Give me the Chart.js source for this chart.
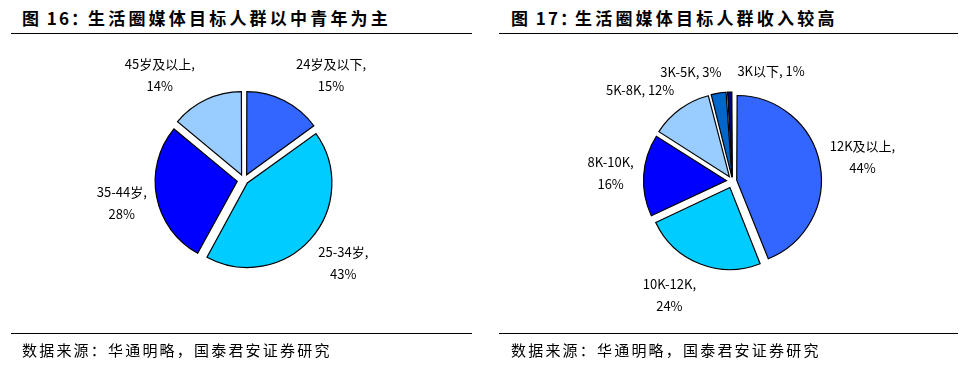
<!DOCTYPE html>
<html>
<head>
<meta charset="utf-8">
<script src="https://cdn.jsdelivr.net/npm/chart.js@4/dist/chart.umd.min.js"></script>
<style>
  body { margin: 0; background: #fff; width: 970px; height: 369px; position: relative; overflow: hidden;
         font-family: "Noto Sans CJK SC", sans-serif; color: #000; }
  .title { position: absolute; top: 8px; font-size: 17px; line-height: 20px; font-weight: bold; white-space: nowrap; }
  .rule { position: absolute; height: 1px; background: #000; }
  .src { position: absolute; top: 340px; font-size: 15px; line-height: 20px; letter-spacing: 2.2px; white-space: nowrap; }
  canvas { position: absolute; top: 0; }
</style>
</head>
<body>
<div class="title" style="left:22px;letter-spacing:2px">图 16：</div>
<div class="title" style="left:88px;letter-spacing:3.2px">生活圈媒体目标人群以中青年为主</div>
<div class="rule" style="left:11px;width:461px;top:33px"></div>
<canvas id="ageChart" width="485" height="369" style="left:0"></canvas>
<div class="rule" style="left:11px;width:461px;top:333px"></div>
<div class="src" style="left:22px">数据来源：华通明略，国泰君安证券研究</div>

<div class="title" style="left:511px;letter-spacing:2px">图 17：</div>
<div class="title" style="left:575px;letter-spacing:3.2px">生活圈媒体目标人群收入较高</div>
<div class="rule" style="left:499px;width:459px;top:33px"></div>
<canvas id="incomeChart" width="485" height="369" style="left:485px"></canvas>
<div class="rule" style="left:499px;width:459px;top:333px"></div>
<div class="src" style="left:511px">数据来源：华通明略，国泰君安证券研究</div>

<script>
// data
const ageLabels = ["24岁及以下", "25-34岁", "35-44岁", "45岁及以上"];
const ageValues = [15, 43, 28, 14];
const incomeLabels = ["12K及以上", "10K-12K", "8K-10K", "5K-8K", "3K-5K", "3K以下"];
const incomeValues = [44, 24, 16, 12, 3, 1];

// styles
const ageColors = ["#3366FF", "#00CCFF", "#0000FF", "#99CCFF"];
const incomeColors = ["#3366FF", "#00CCFF", "#0000FF", "#99CCFF", "#0066CC", "#000080"];
const ageOneLine = [false, false, false, false];
const incomeOneLine = [false, false, false, true, true, true];

const EXPLODE = 7;     // px each slice is pulled out
const RADIUS = 82;
const LINE_H = 22;

const clamp1 = v => Math.max(-1, Math.min(1, v));

// chart.js moves an arc by offset/4 * (2 - sin(angle)), so scale it to give the same pull for all slices
function explodeOffset(c) {
  if (c.dataIndex === undefined) return 0;
  const vals = c.chart.data.datasets[0].data;
  const total = vals.reduce((a, b) => a + b, 0);
  const angle = vals[c.dataIndex] / total * 2 * Math.PI;
  const fix = 1 - Math.sin(Math.min(Math.PI, angle));
  return 4 * EXPLODE / (1 + fix);
}

const pieLabels = {
  id: "pieLabels",
  afterDatasetsDraw(chart, args, opts) {
    const ctx = chart.ctx;
    const meta = chart.getDatasetMeta(0);
    const data = chart.data.datasets[0].data;
    ctx.save();
    ctx.font = "13px 'Noto Sans CJK SC', sans-serif";
    ctx.fillStyle = "#000";
    ctx.textAlign = "center";
    ctx.textBaseline = "middle";

    const boxes = meta.data.map((arc, i) => {
      const p = arc.getProps(["x", "y", "startAngle", "endAngle", "outerRadius"], true);
      const mid = (p.startAngle + p.endAngle) / 2;
      const cos = Math.cos(mid), sin = Math.sin(mid);
      const name = chart.data.labels[i] + ",";
      const pct = data[i] + "%";
      const lines = opts.oneLine[i] ? [name + " " + pct] : [name, pct];
      const w = Math.max(...lines.map(t => ctx.measureText(t).width));
      const h = lines.length * LINE_H;
      const d = p.outerRadius + opts.gap;
      const ax = p.x + cos * d;
      let cx = ax + w / 2 * clamp1(cos * 3);
      let cy = p.y + sin * d + h / 2 * clamp1(sin * 1.2);
      if (cy - h / 2 < opts.top) {
        // keep inside the plot: slide down and outward along the pie
        const dy = opts.top + h / 2 - cy;
        cy += dy;
        cx += Math.sign(cos) * Math.min(dy * Math.abs(sin / cos), 7);
      }
      return { lines, w, h, cx, cy, ax };
    });

    // push apart labels that sit on top of each other
    for (let i = 0; i < boxes.length; i++) {
      for (let j = i + 1; j < boxes.length; j++) {
        const a = boxes[i], b = boxes[j];
        const oy = (a.h + b.h) / 2 - Math.abs(a.cy - b.cy);
        const ox = (a.w + b.w) / 2 + 16 - Math.abs(a.cx - b.cx);
        if (oy > 8 && ox > 0) {
          const [l, r] = a.cx <= b.cx ? [a, b] : [b, a];
          const edge = Math.max(l.ax, r.ax);
          l.cx = edge - 8 - l.w / 2;
          r.cx = edge + 8 + r.w / 2;
        }
      }
    }

    boxes.forEach(b => {
      b.lines.forEach((t, k) => {
        ctx.fillText(t, b.cx, b.cy - b.h / 2 + LINE_H / 2 + k * LINE_H);
      });
    });
    ctx.restore();
  }
};

function makePie(id, labels, values, colors, oneLine, padding, top) {
  return new Chart(document.getElementById(id), {
    type: "pie",
    data: {
      labels: labels,
      datasets: [{
        data: values,
        backgroundColor: colors,
        borderColor: "#000",
        borderWidth: 1.2,
        borderJoinStyle: "miter",
        offset: explodeOffset,
        hoverOffset: 0
      }]
    },
    options: {
      responsive: false,
      animation: false,
      events: [],
      radius: RADIUS,
      layout: { padding: padding },
      plugins: {
        legend: { display: false },
        tooltip: { enabled: false },
        pieLabels: { oneLine: oneLine, gap: 17, top: top }
      }
    },
    plugins: [pieLabels]
  });
}

makePie("ageChart", ageLabels, ageValues, ageColors, ageOneLine,
  { left: 3, right: 0, top: 0, bottom: 9 }, 53);
makePie("incomeChart", incomeLabels, incomeValues, incomeColors, incomeOneLine,
  { left: 10, right: 0, top: 0, bottom: 7 }, 56);
</script>
</body>
</html>
